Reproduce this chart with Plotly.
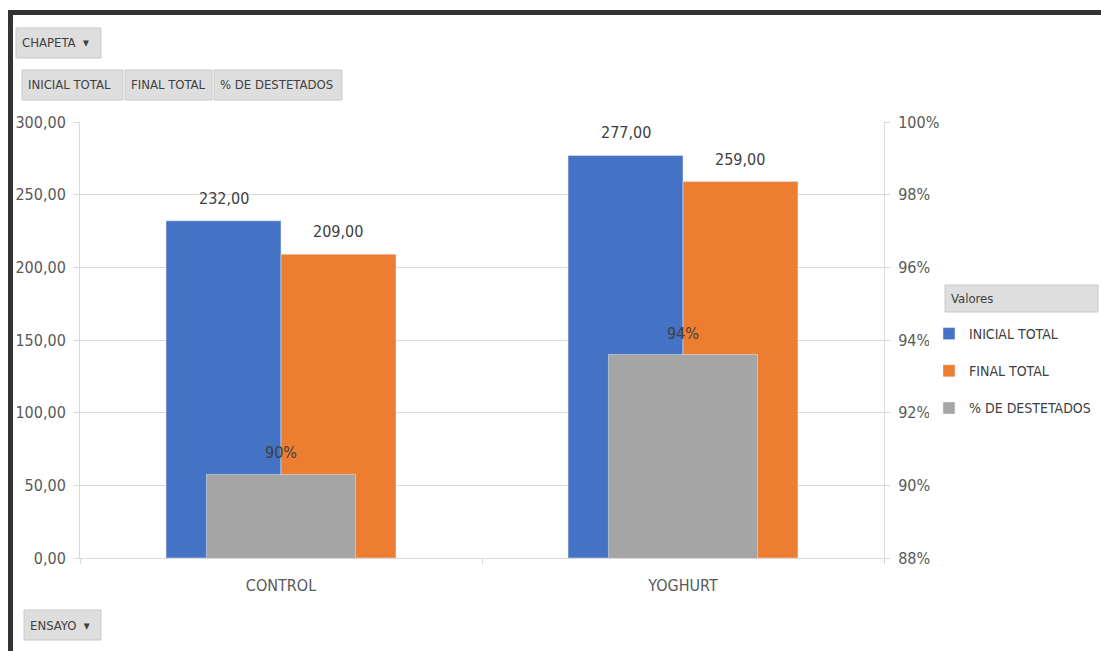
import plotly.graph_objects as go

# Trial groups and their totals
ENSAYOS = ["CONTROL", "YOGHURT"]
INICIAL_TOTAL = [232, 277]
FINAL_TOTAL = [209, 259]
PCT_DESTETADOS = [0.903, 0.936]

LEFT_TICKS = [0, 50, 100, 150, 200, 250, 300]
RIGHT_TICKS = [0.88, 0.90, 0.92, 0.94, 0.96, 0.98, 1.00]

BLUE = "#4472C4"
ORANGE = "#ED7D31"
GRAY = "#A5A5A5"
FONT = "Liberation Sans Narrow, DejaVu Sans Condensed, Arial Narrow, sans-serif"

W, H = 1101, 651
PL, PR, PT, PB = 80, 884, 122, 558  # plot area in pixels


def px(x):
    return (x - PL) / (PR - PL)


def py(y):
    return (PB - y) / (PB - PT)


def fmt_num(v):
    return f"{v:.2f}".replace(".", ",")


fig = go.Figure()

fig.add_bar(x=ENSAYOS, y=INICIAL_TOTAL, name="INICIAL TOTAL", marker_color=BLUE,
            width=0.286, offset=-0.286, legendgroup="a")
fig.add_bar(x=ENSAYOS, y=FINAL_TOTAL, name="FINAL TOTAL", marker_color=ORANGE,
            width=0.286, offset=0.0, legendgroup="b")
fig.add_bar(x=ENSAYOS, y=PCT_DESTETADOS, name="% DE DESTETADOS", marker_color=GRAY,
            width=0.371, offset=-0.1855, yaxis="y2", legendgroup="c")

annotations = []
for i, v in enumerate(INICIAL_TOTAL):
    annotations.append(dict(x=i - 0.143, y=v, xref="x", yref="y", text=fmt_num(v),
                            showarrow=False, yanchor="bottom", yshift=11))
for i, v in enumerate(FINAL_TOTAL):
    annotations.append(dict(x=i + 0.143, y=v, xref="x", yref="y", text=fmt_num(v),
                            showarrow=False, yanchor="bottom", yshift=11))
for i, v in enumerate(PCT_DESTETADOS):
    annotations.append(dict(x=i, y=v, xref="x", yref="y2", text=f"{round(v * 100):.0f}%",
                            showarrow=False, yanchor="bottom", yshift=10))
for a in annotations:
    a["font"] = dict(family=FONT, size=16, color="#404040")

# Pivot field buttons
shapes = []
buttons = [
    (16, 28, 101, 58, "CHAPETA  ▾"),
    (22, 70, 123, 100, "INICIAL TOTAL"),
    (125, 70, 212, 100, "FINAL TOTAL"),
    (214, 70, 342, 100, "% DE DESTETADOS"),
    (24, 610, 101, 640, "ENSAYO  ▾"),
    (945, 285, 1098, 312, "Valores"),
]
for x0, y0, x1, y1, label in buttons:
    shapes.append(dict(type="rect", xref="paper", yref="paper",
                       x0=px(x0), x1=px(x1), y0=py(y1), y1=py(y0),
                       fillcolor="#DEDEDE", line=dict(color="#C9C9C9", width=1), layer="above"))
    annotations.append(dict(xref="paper", yref="paper", x=px(x0 + 4), y=py((y0 + y1) / 2),
                            xanchor="left", yanchor="middle", text=label, showarrow=False,
                            font=dict(family=FONT, size=13, color="#404040")))

# Window frame lines
shapes.append(dict(type="rect", xref="paper", yref="paper", x0=px(8), x1=px(W + 5),
                   y0=py(15), y1=py(10), fillcolor="#333333", line_width=0, layer="above"))
shapes.append(dict(type="rect", xref="paper", yref="paper", x0=px(8), x1=px(13),
                   y0=py(H + 5), y1=py(10), fillcolor="#333333", line_width=0, layer="above"))

axis_font = dict(family=FONT, size=16, color="#595959")

fig.update_layout(
    width=W, height=H,
    margin=dict(l=PL, r=W - PR, t=PT, b=H - PB, autoexpand=False),
    paper_bgcolor="white", plot_bgcolor="white",
    barmode="overlay",
    separators=",.",
    font=dict(family=FONT, color="#404040"),
    xaxis=dict(type="category", range=[-0.5, 1.5], tickson="boundaries", ticks="outside",
               ticklen=5, tickcolor="#D9D9D9", showline=True, linecolor="#D9D9D9",
               showgrid=False, tickfont=axis_font, ticklabelstandoff=13),
    yaxis=dict(range=[0, 300], tickvals=LEFT_TICKS, tickformat=".2f", showgrid=True,
               gridcolor="#D9D9D9", showline=True, linecolor="#D9D9D9", ticks="outside",
               ticklen=5, tickcolor="#D9D9D9", tickfont=axis_font, zeroline=False,
               ticklabelstandoff=5),
    yaxis2=dict(range=[0.88, 1.0], tickvals=RIGHT_TICKS, tickformat=".0%", overlaying="y",
                side="right", showgrid=False, showline=True, linecolor="#D9D9D9",
                ticks="outside", ticklen=5, tickcolor="#D9D9D9", tickfont=axis_font,
                zeroline=False, ticklabelstandoff=5),
    legend=dict(x=px(929), y=py(318), xanchor="left", yanchor="top",
                font=dict(family=FONT, size=14, color="#404040"),
                tracegroupgap=16, itemwidth=30),
    showlegend=True,
    annotations=annotations,
    shapes=shapes,
)

fig.write_html("out.html")
